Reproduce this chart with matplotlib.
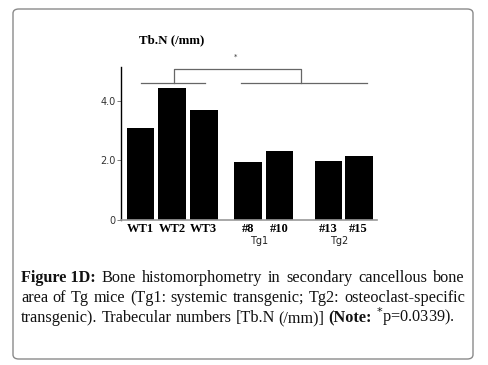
import numpy as np
import matplotlib
matplotlib.use("Agg")
import matplotlib.pyplot as plt
from matplotlib.patches import FancyBboxPatch

# bar data (Tb.N, /mm)
labels = ["WT1", "WT2", "WT3", "#8", "#10", "#13", "#15"]
values = [3.08, 4.43, 3.68, 1.95, 2.32, 1.98, 2.16]
positions = [0, 1, 2, 3.4, 4.4, 5.95, 6.9]
groups = ["Tg1", "Tg2"]
group_members = [[3, 4], [5, 6]]
yticks = [0, 2.0, 4.0]
yticklabels = ["0", "2.0", "4.0"]

caption_lines = [
    [("Figure 1D:", "bold"), ("Bone", "normal"), ("histomorphometry", "normal"), ("in", "normal"),
     ("secondary", "normal"), ("cancellous", "normal"), ("bone", "normal")],
    [("area", "normal"), ("of", "normal"), ("Tg", "normal"), ("mice", "normal"), ("(Tg1:", "normal"),
     ("systemic", "normal"), ("transgenic;", "normal"), ("Tg2:", "normal"), ("osteoclast-specific", "normal")],
    [("transgenic).", "normal"), ("Trabecular", "normal"), ("numbers", "normal"), ("[Tb.N", "normal"),
     ("(/mm)]", "normal"), ("(Note:", "bold"), ("$^{*}$p=0.0339).", "normal")],
]

W, H = 489, 365
fig = plt.figure(figsize=(W / 100, H / 100), dpi=100)

# rounded frame
frame = FancyBboxPatch((13 / W, 1 - 359 / H), 460 / W, 350 / H,
                       boxstyle="round,pad=0,rounding_size=0.012",
                       transform=fig.transFigure, facecolor="white",
                       edgecolor="#8a8a8a", linewidth=1.0, zorder=-5)
fig.patches.append(frame)

ax = fig.add_axes([121 / W, 1 - 220 / H, (376.7 - 121) / W, (220 - 66.7) / H])
ax.set_zorder(2)
ax.patch.set_visible(False)
ax.bar(positions, values, width=0.875, color="black")
ax.set_xlim(-0.62, 7.47)
ax.set_ylim(0, 5.15)

for s in ["top", "right"]:
    ax.spines[s].set_visible(False)
ax.spines["left"].set_color("black")
ax.spines["left"].set_linewidth(1.0)
ax.spines["bottom"].set_color("#9a9a9a")
ax.spines["bottom"].set_linewidth(1.2)

ax.set_yticks(yticks)
ax.set_yticklabels(yticklabels, fontsize=7, color="#333333", family="DejaVu Sans")
ax.tick_params(axis="y", length=3, width=0.6, color="#666666", pad=1)
ax.set_xticks(positions)
ax.set_xticklabels(labels, fontsize=9, fontweight="bold", family="Liberation Serif")
ax.tick_params(axis="x", length=0, pad=2.5)

# group labels under the Tg lines
for g, idx in zip(groups, group_members):
    gx = np.mean([positions[i] for i in idx])
    ax.text(gx - 0.15, -0.72, g, ha="center", va="center", fontsize=7,
            family="DejaVu Sans", color="#222222", clip_on=False)

# significance bracket
line_kw = dict(color="#666666", linewidth=0.9, clip_on=False)
y_low, y_high = 4.59, 5.07
wt_l, wt_r = positions[0], positions[2] + 0.03
tg_l, tg_r = positions[3] - 0.23, positions[6] + 0.25
ax.plot([wt_l, wt_r], [y_low, y_low], **line_kw)
ax.plot([tg_l, tg_r], [y_low, y_low], **line_kw)
bx1 = positions[1] + 0.06
bx2 = (tg_l + tg_r) / 2 - 0.07
ax.plot([bx1, bx1, bx2, bx2], [y_low, y_high, y_high, y_low], **line_kw)
ax.text(3.0, 5.47, "*", ha="center", va="center", fontsize=5, color="#333333", clip_on=False)

fig.text(172 / W, 1 - 40 / H, "Tb.N (/mm)", ha="center", va="center",
         fontsize=9.3, fontweight="bold", family="Liberation Serif")

# justified caption
renderer = fig.canvas.get_renderer()
x_left, x_right = 21, 465
line_base = [282, 302, 322]
cap_size = 11.7
for li, words in enumerate(caption_lines):
    texts = []
    widths = []
    for w, weight in words:
        t = fig.text(0, 1 - line_base[li] / H, w, fontsize=cap_size, fontweight=weight,
                     family="Liberation Serif", va="baseline", ha="left", color="#111111")
        texts.append(t)
        widths.append(t.get_window_extent(renderer).width)
    if li < len(caption_lines) - 1:
        gap = (x_right - x_left - sum(widths)) / (len(words) - 1)
    else:
        gap = 4.0
    x = x_left
    for t, wd in zip(texts, widths):
        t.set_x(x / W)
        x += wd + gap

fig.savefig("out.png", dpi=100)
